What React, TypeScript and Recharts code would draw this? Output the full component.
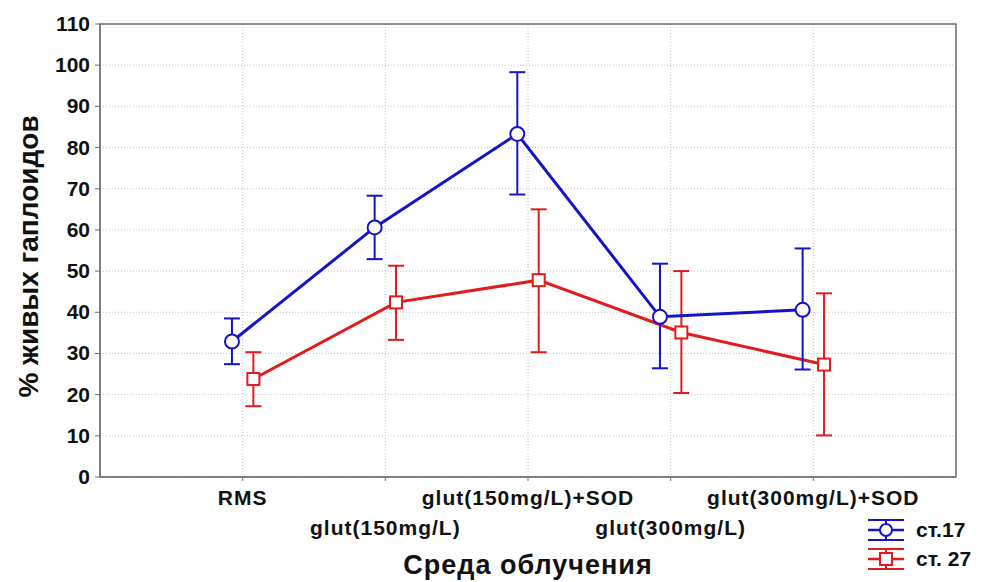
import React from 'react';
import {
  LineChart,
  Line,
  XAxis,
  YAxis,
  CartesianGrid,
  ErrorBar,
  Legend,
  ReferenceArea,
  Label,
} from 'recharts';

// категории (позиции 1..5 на числовой оси)
const categories = [
  'RMS',
  'glut(150mg/L)',
  'glut(150mg/L)+SOD',
  'glut(300mg/L)',
  'glut(300mg/L)+SOD',
];
const yTicks = [0, 10, 20, 30, 40, 50, 60, 70, 80, 90, 100, 110];

// ст.17
const st17Mean = [32.9, 60.6, 83.3, 38.9, 40.6];
const st17Low = [27.4, 52.9, 68.6, 26.4, 26.1];
const st17High = [38.5, 68.3, 98.3, 51.8, 55.5];

// ст. 27
const st27Mean = [23.8, 42.4, 47.8, 35.1, 27.3];
const st27Low = [17.2, 33.3, 30.3, 20.4, 10.1];
const st27High = [30.3, 51.3, 65.0, 50.0, 44.6];

const BLUE = '#1414c8';
const RED = '#e01c1c';
const FONT = '"Liberation Sans", Arial, sans-serif';

// небольшой сдвиг серий влево/вправо от метки категории
const buildSeries = (mean: number[], low: number[], high: number[], shift: number) =>
  mean.map((m, i) => ({
    x: i + 1 + shift,
    y: m,
    err: [m - low[i], high[i] - m],
  }));

const blueData = buildSeries(st17Mean, st17Low, st17High, -0.075);
const redData = buildSeries(st27Mean, st27Low, st27High, 0.075);

const XTick = (props: any) => {
  const { x, y, payload, index } = props;
  const label = categories[Math.round(payload.value) - 1] ?? '';
  return (
    <text
      x={x}
      y={y}
      dy={index % 2 === 0 ? 22 : 52}
      textAnchor="middle"
      fontFamily={FONT}
      fontWeight="bold"
      fontSize={21}
      letterSpacing={1}
      fill="#111"
    >
      {label}
    </text>
  );
};

const YTick = (props: any) => {
  const { x, y, payload } = props;
  return (
    <text
      x={x}
      y={y}
      dy={7}
      textAnchor="end"
      fontFamily={FONT}
      fontWeight="bold"
      fontSize={21}
      fill="#111"
    >
      {payload.value}
    </text>
  );
};

const SquareDot = (props: any) => {
  const { cx, cy } = props;
  if (cx == null || cy == null) return null;
  return (
    <rect
      key={`sq-${cx}`}
      x={cx - 6}
      y={cy - 6}
      width={12}
      height={12}
      fill="#fff"
      stroke={RED}
      strokeWidth={2}
    />
  );
};

const LegendIcon = ({ color, square }: { color: string; square?: boolean }) => (
  <svg width={40} height={24} style={{ display: 'block' }}>
    <line x1={2} x2={38} y1={2} y2={2} stroke={color} strokeWidth={2} />
    <line x1={2} x2={38} y1={22} y2={22} stroke={color} strokeWidth={2} />
    <line x1={20} x2={20} y1={2} y2={22} stroke={color} strokeWidth={2} />
    <line x1={2} x2={38} y1={12} y2={12} stroke={color} strokeWidth={2.5} />
    {square ? (
      <rect x={14} y={6} width={12} height={12} fill="#fff" stroke={color} strokeWidth={2} />
    ) : (
      <circle cx={20} cy={12} r={6} fill="#fff" stroke={color} strokeWidth={2} />
    )}
  </svg>
);

const CustomLegend = () => (
  <div style={{ fontFamily: FONT, fontWeight: 'bold', fontSize: 21, color: '#111' }}>
    {[
      { name: 'ст.17', color: BLUE, square: false },
      { name: 'ст. 27', color: RED, square: true },
    ].map((it) => (
      <div key={it.name} style={{ display: 'flex', alignItems: 'center', height: 29 }}>
        <LegendIcon color={it.color} square={it.square} />
        <span style={{ marginLeft: 10 }}>{it.name}</span>
      </div>
    ))}
  </div>
);

export default function App() {
  return (
    <div style={{ position: 'absolute', left: 0, top: 0, background: '#fff' }}>
      <LineChart
        width={983}
        height={582}
        margin={{ top: 24, right: 27, left: 40, bottom: 0 }}
      >
        <CartesianGrid stroke="#c4c4c4" strokeDasharray="1 2" />
        <XAxis
          type="number"
          dataKey="x"
          domain={[0, 6]}
          ticks={[1, 2, 3, 4, 5]}
          height={105}
          tickSize={4}
          tickMargin={2}
          tick={<XTick />}
          stroke="#6e6e6e"
        >
          <Label
            content={({ viewBox }: any) => (
              <text
                x={viewBox.x + viewBox.width / 2}
                y={viewBox.y + 97}
                textAnchor="middle"
                fontFamily={FONT}
                fontWeight="bold"
                fontSize={27}
                letterSpacing={1}
                fill="#111"
              >
                Среда облучения
              </text>
            )}
          />
        </XAxis>
        <YAxis
          type="number"
          domain={[0, 110]}
          ticks={yTicks}
          width={60}
          tickSize={5}
          tickMargin={5}
          tick={<YTick />}
          stroke="#6e6e6e"
        >
          <Label
            content={({ viewBox }: any) => {
              const cx = viewBox.x - 12;
              const cy = viewBox.y + viewBox.height / 2 + 6;
              return (
                <text
                  x={cx}
                  y={cy}
                  transform={`rotate(-90, ${cx}, ${cy})`}
                  textAnchor="middle"
                  dominantBaseline="central"
                  fontFamily={FONT}
                  fontWeight="bold"
                  fontSize={28}
                  fill="#111"
                >
                  % живых гаплоидов
                </text>
              );
            }}
          />
        </YAxis>
        <ReferenceArea
          x1={0}
          x2={6}
          y1={0}
          y2={110}
          fill="none"
          stroke="#6e6e6e"
          strokeWidth={1.5}
          ifOverflow="visible"
        />
        <Legend
          content={<CustomLegend />}
          layout="horizontal"
          verticalAlign="middle"
          align="center"
          wrapperStyle={{ left: 866, top: 515, width: 117, height: 60 }}
        />
        <Line
          data={redData}
          dataKey="y"
          name="ст. 27"
          stroke={RED}
          strokeWidth={3}
          dot={<SquareDot />}
          activeDot={false}
          isAnimationActive={false}
        >
          <ErrorBar dataKey="err" direction="y" width={8} stroke={RED} strokeWidth={2} />
        </Line>
        <Line
          data={blueData}
          dataKey="y"
          name="ст.17"
          stroke={BLUE}
          strokeWidth={3}
          dot={{ r: 7, fill: '#fff', stroke: BLUE, strokeWidth: 2 }}
          activeDot={false}
          isAnimationActive={false}
        >
          <ErrorBar dataKey="err" direction="y" width={8} stroke={BLUE} strokeWidth={2} />
        </Line>
      </LineChart>
    </div>
  );
}
